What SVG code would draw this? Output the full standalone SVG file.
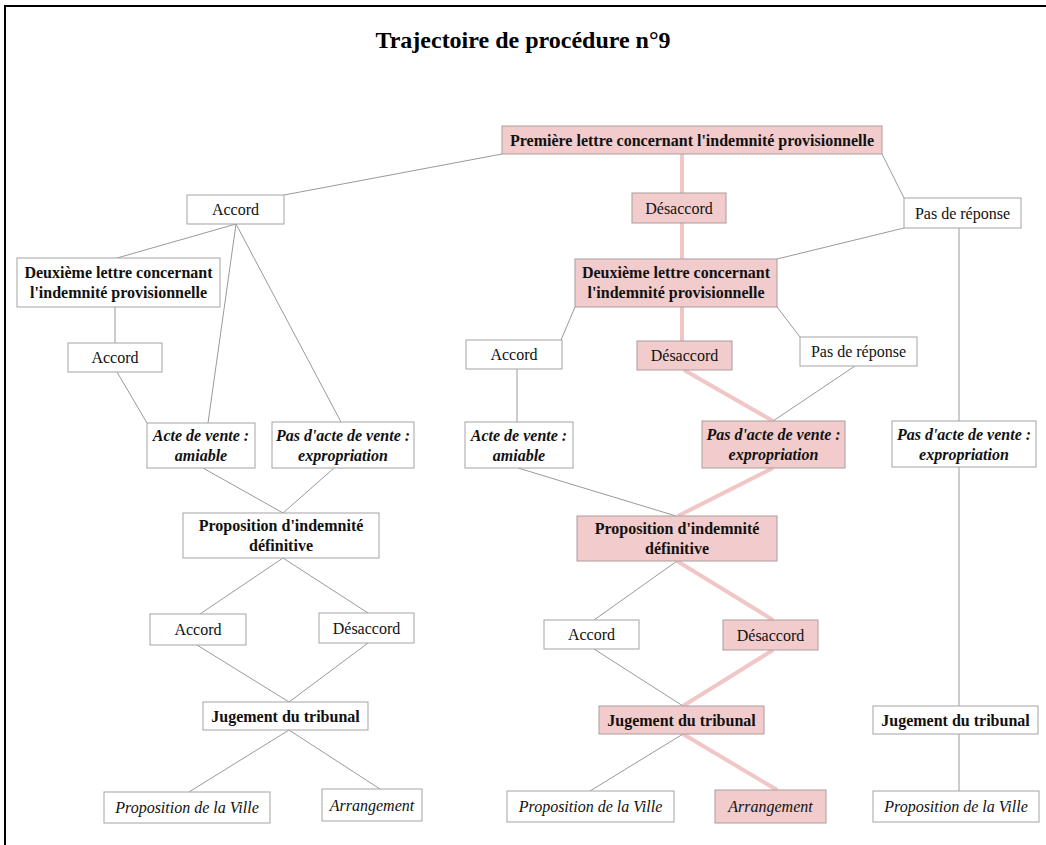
<svg xmlns="http://www.w3.org/2000/svg" width="1046" height="845" viewBox="0 0 1046 845">
<style>
.bx{fill:#ffffff;stroke:#a3a3a3;stroke-width:1}
.pk{fill:#f2cccc;stroke:#ab9c9c;stroke-width:1}
.t{font-family:"Liberation Serif","Times New Roman",serif;font-size:16px;fill:#111;text-anchor:middle}
.b{font-weight:bold}
.i{font-style:italic}
.ln{stroke:#9a9a9a;stroke-width:1;fill:none}
.pl{stroke:#f1c6c6;stroke-width:4;fill:none}
</style>
<rect x="0" y="0" width="1046" height="845" fill="#ffffff"/>
<path d="M5,845 V6 H1046" fill="none" stroke="#000" stroke-width="2"/>
<text x="523" y="48" font-family="Liberation Serif,Times New Roman,serif" font-size="24" font-weight="bold" text-anchor="middle" fill="#000">Trajectoire de procédure n°9</text>
<g id="connectors">
<line class="ln" x1="502" y1="154" x2="284" y2="195"/>
<line class="ln" x1="882" y1="154" x2="904" y2="198"/>
<line class="ln" x1="236" y1="224" x2="117" y2="258"/>
<line class="ln" x1="236" y1="224" x2="208" y2="423"/>
<line class="ln" x1="236" y1="224" x2="341" y2="422"/>
<line class="ln" x1="115" y1="307" x2="115" y2="343"/>
<line class="ln" x1="117" y1="372" x2="147" y2="423"/>
<line class="ln" x1="203" y1="468" x2="283" y2="513"/>
<line class="ln" x1="334" y1="468" x2="283" y2="513"/>
<line class="ln" x1="283" y1="558" x2="200" y2="614"/>
<line class="ln" x1="283" y1="558" x2="368" y2="613"/>
<line class="ln" x1="197" y1="645" x2="289" y2="702"/>
<line class="ln" x1="368" y1="643" x2="289" y2="702"/>
<line class="ln" x1="289" y1="730" x2="189" y2="792"/>
<line class="ln" x1="289" y1="730" x2="380" y2="789"/>
<line class="ln" x1="904" y1="228" x2="777" y2="259"/>
<line class="ln" x1="959" y1="228" x2="959" y2="421"/>
<line class="ln" x1="575" y1="307" x2="561" y2="340"/>
<line class="ln" x1="777" y1="307" x2="800" y2="337"/>
<line class="ln" x1="517" y1="369" x2="517" y2="422"/>
<line class="ln" x1="855" y1="366" x2="773" y2="421"/>
<line class="ln" x1="518" y1="468" x2="676" y2="516"/>
<line class="ln" x1="677" y1="561" x2="594" y2="620"/>
<line class="ln" x1="594" y1="649" x2="683" y2="706"/>
<line class="ln" x1="683" y1="734" x2="590" y2="791"/>
<line class="ln" x1="959" y1="467" x2="959" y2="706"/>
<line class="ln" x1="959" y1="734" x2="959" y2="791"/>
<line class="pl" x1="682" y1="154" x2="682" y2="193"/>
<line class="pl" x1="682" y1="223" x2="682" y2="259"/>
<line class="pl" x1="682" y1="307" x2="682" y2="341"/>
<line class="pl" x1="684" y1="370" x2="773" y2="421"/>
<line class="pl" x1="773" y1="468" x2="678" y2="516"/>
<line class="pl" x1="677" y1="561" x2="773" y2="620"/>
<line class="pl" x1="773" y1="650" x2="683" y2="706"/>
<line class="pl" x1="683" y1="734" x2="777" y2="790"/>
</g>
<g id="n1"><rect class="pk" x="502" y="126" width="380" height="28"/><text class="t b" x="692" y="145.5">Première lettre concernant l'indemnité provisionnelle</text></g>
<g id="n2"><rect class="bx" x="187" y="195" width="97" height="29"/><text class="t" x="235.5" y="215">Accord</text></g>
<g id="n3"><rect class="pk" x="632" y="193" width="94" height="30"/><text class="t" x="679" y="213.5">Désaccord</text></g>
<g id="n4"><rect class="bx" x="904" y="198" width="117" height="30"/><text class="t" x="962.5" y="218.5">Pas de réponse</text></g>
<g id="n5"><rect class="bx" x="17" y="258" width="203" height="49"/><text class="t b" x="118.5" y="277.5">Deuxième lettre concernant</text><text class="t b" x="118.5" y="297.5">l'indemnité provisionnelle</text></g>
<g id="n6"><rect class="pk" x="575" y="259" width="202" height="48"/><text class="t b" x="676" y="278">Deuxième lettre concernant</text><text class="t b" x="676" y="298">l'indemnité provisionnelle</text></g>
<g id="n7"><rect class="bx" x="68" y="343" width="94" height="29"/><text class="t" x="115" y="363">Accord</text></g>
<g id="n8"><rect class="bx" x="466" y="340" width="96" height="29"/><text class="t" x="514" y="360">Accord</text></g>
<g id="n9"><rect class="pk" x="637" y="341" width="95" height="29"/><text class="t" x="684.5" y="361">Désaccord</text></g>
<g id="n10"><rect class="bx" x="800" y="337" width="117" height="29"/><text class="t" x="858.5" y="357">Pas de réponse</text></g>
<g id="n11"><rect class="bx" x="147" y="423" width="108" height="45"/><text class="t b i" x="201" y="441">Acte de vente :</text><text class="t b i" x="201" y="461">amiable</text></g>
<g id="n12"><rect class="bx" x="272" y="422" width="142" height="46"/><text class="t b i" x="343" y="440.5">Pas d'acte de vente :</text><text class="t b i" x="343" y="460.5">expropriation</text></g>
<g id="n13"><rect class="bx" x="465" y="422" width="108" height="46"/><text class="t b i" x="519" y="440.5">Acte de vente :</text><text class="t b i" x="519" y="460.5">amiable</text></g>
<g id="n14"><rect class="pk" x="702" y="421" width="143" height="47"/><text class="t b i" x="773.5" y="440">Pas d'acte de vente :</text><text class="t b i" x="773.5" y="460">expropriation</text></g>
<g id="n15"><rect class="bx" x="892" y="421" width="144" height="46"/><text class="t b i" x="964" y="439.5">Pas d'acte de vente :</text><text class="t b i" x="964" y="459.5">expropriation</text></g>
<g id="n16"><rect class="bx" x="183" y="513" width="196" height="45"/><text class="t b" x="281" y="531">Proposition d'indemnité</text><text class="t b" x="281" y="551">définitive</text></g>
<g id="n17"><rect class="pk" x="577" y="516" width="200" height="45"/><text class="t b" x="677" y="534">Proposition d'indemnité</text><text class="t b" x="677" y="554">définitive</text></g>
<g id="n18"><rect class="bx" x="150" y="614" width="96" height="31"/><text class="t" x="198" y="635">Accord</text></g>
<g id="n19"><rect class="bx" x="319" y="613" width="95" height="30"/><text class="t" x="366.5" y="633.5">Désaccord</text></g>
<g id="n20"><rect class="bx" x="544" y="620" width="95" height="29"/><text class="t" x="591.5" y="640">Accord</text></g>
<g id="n21"><rect class="pk" x="723" y="620" width="95" height="30"/><text class="t" x="770.5" y="640.5">Désaccord</text></g>
<g id="n22"><rect class="bx" x="203" y="702" width="165" height="28"/><text class="t b" x="285.5" y="721.5">Jugement du tribunal</text></g>
<g id="n23"><rect class="pk" x="599" y="706" width="165" height="28"/><text class="t b" x="681.5" y="725.5">Jugement du tribunal</text></g>
<g id="n24"><rect class="bx" x="873" y="706" width="165" height="28"/><text class="t b" x="955.5" y="725.5">Jugement du tribunal</text></g>
<g id="n25"><rect class="bx" x="104" y="792" width="166" height="31"/><text class="t i" x="187" y="813">Proposition de la Ville</text></g>
<g id="n26"><rect class="bx" x="322" y="789" width="100" height="32"/><text class="t i" x="372" y="810.5">Arrangement</text></g>
<g id="n27"><rect class="bx" x="507" y="791" width="167" height="31"/><text class="t i" x="590.5" y="812">Proposition de la Ville</text></g>
<g id="n28"><rect class="pk" x="715" y="790" width="111" height="33"/><text class="t i" x="770.5" y="812">Arrangement</text></g>
<g id="n29"><rect class="bx" x="873" y="791" width="166" height="31"/><text class="t i" x="956" y="812">Proposition de la Ville</text></g>
</svg>
